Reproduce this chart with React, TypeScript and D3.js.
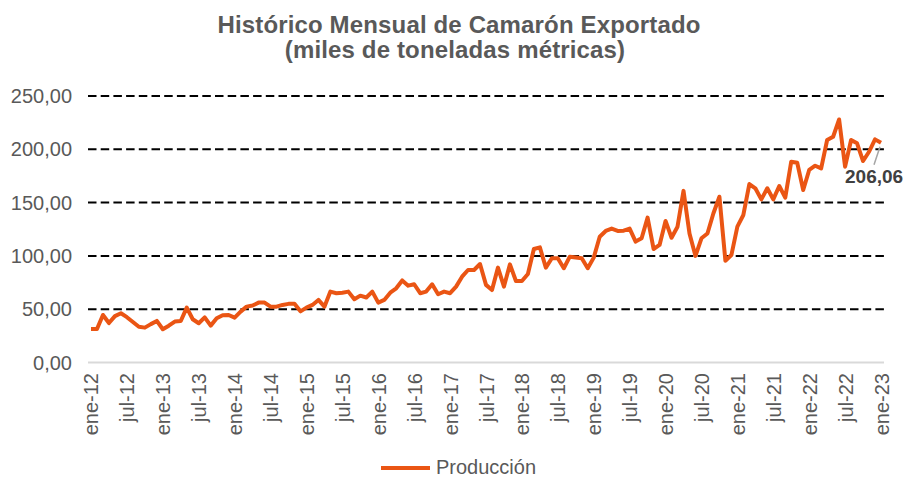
import React from "react";
import * as d3 from "d3";

const monthNames = ["ene", "feb", "mar", "abr", "may", "jun", "jul", "ago", "sep", "oct", "nov", "dic"];
const startYear = 12;

const values2012 = [31.5, 31.5, 44.6, 37, 43.5, 46.2, 42.5, 38, 33.5, 32.7, 36, 39];
const values2013 = [31.2, 34.5, 38.4, 38.9, 51.5, 40.6, 36.8, 42.4, 34.6, 41.5, 44.3, 44.6];
const values2014 = [42.1, 47.7, 52.4, 53.4, 56.2, 56.2, 52.4, 52.4, 54, 55, 55, 48];
const values2015 = [51.5, 54, 58.7, 52.4, 66.5, 65, 65.5, 66.5, 59.3, 62.7, 61, 66.5];
const values2016 = [56.2, 58.7, 65.5, 69.6, 77, 72.1, 73.4, 65, 66.5, 73.4, 64, 66.5];
const values2017 = [65, 71.2, 80.5, 86.8, 86.8, 92.4, 72.8, 68, 89, 71.2, 92.1, 76.5];
const values2018 = [76.5, 83, 106.5, 108, 89, 97.8, 97.8, 88.4, 99.3, 98.5, 97.8, 88.4];
const values2019 = [98.4, 118, 123.4, 125.6, 123.4, 123.7, 125.6, 113.4, 116.5, 135.9, 106.5, 110.3];
const values2020 = [132.8, 117, 127.4, 161, 121, 100, 116.5, 121, 140, 155.5, 95.5, 100.8];
const values2021 = [127.4, 138.4, 167.4, 163.4, 153, 163.4, 153, 165.6, 154.6, 188.4, 187.4, 161.8];
const values2022 = [180.6, 184.6, 182.1, 208.7, 211.8, 228, 183.7, 208.7, 205.6, 189, 197.7, 209.3];
const values2023 = [206.06];

const yTicks = [0, 50, 100, 150, 200, 250];
const seriesName = "Producción";
const title1 = "Histórico Mensual de Camarón Exportado";
const title2 = "(miles de toneladas métricas)";

const production = [
  ...values2012, ...values2013, ...values2014, ...values2015, ...values2016, ...values2017,
  ...values2018, ...values2019, ...values2020, ...values2021, ...values2022, ...values2023,
];
const categories = production.map((_, i) => {
  const m = i % 12;
  const y = startYear + Math.floor(i / 12);
  return `${monthNames[m]}-${y}`;
});

const W = 907;
const H = 477;
const FONT = "'Liberation Sans', Arial, sans-serif";
const ORANGE = "#EA5514";
const GREY = "#595959";

export default function App() {
  const x = d3.scalePoint<string>().domain(categories).range([88, 884]).padding(0.5);
  const y = d3.scaleLinear().domain([0, 250]).range([362.5, 96]);
  const line = d3
    .line<number>()
    .x((_, i) => x(categories[i]) as number)
    .y((d) => y(d));

  const lastIdx = production.length - 1;
  const lastX = x(categories[lastIdx]) as number;
  const lastY = y(production[lastIdx]);
  const fmt = (v: number) => v.toFixed(2).replace(".", ",");

  return (
    <svg
      width={W}
      height={H}
      style={{ position: "absolute", left: 0, top: 0, background: "#fff" }}
      fontFamily={FONT}
    >
      <rect x={0} y={0} width={W} height={H} fill="#fff" />
      <text x={459} y={33} textAnchor="middle" fontSize={24} fontWeight="bold" fill={GREY} letterSpacing={0.15}>
        {title1}
      </text>
      <text x={455} y={58} textAnchor="middle" fontSize={24} fontWeight="bold" fill={GREY} letterSpacing={0.15}>
        {title2}
      </text>

      {yTicks.map((t) =>
        t === 0 ? (
          <line key={t} x1={88} x2={884} y1={y(t)} y2={y(t)} stroke="#d9d9d9" strokeWidth={2} />
        ) : (
          <line
            key={t}
            x1={88}
            x2={885}
            y1={y(t)}
            y2={y(t)}
            stroke="#000"
            strokeWidth={2}
            strokeDasharray="8.5,4.2"
          />
        )
      )}
      {yTicks.map((t) => (
        <text key={"l" + t} x={72} y={y(t)} dy="0.35em" textAnchor="end" fontSize={20} fill={GREY}>
          {fmt(t)}
        </text>
      ))}

      {categories.map((c, i) =>
        i % 6 === 0 ? (
          <text
            key={c}
            transform={`translate(${(x(c) as number) + 0.5},373) rotate(-90)`}
            dy="0.35em"
            textAnchor="end"
            fontSize={20}
            fill={GREY}
          >
            {c}
          </text>
        ) : null
      )}

      <path d={line(production) || ""} fill="none" stroke={ORANGE} strokeWidth={4} strokeLinejoin="round" />

      <line x1={lastX - 1} y1={lastY + 4} x2={lastX - 7} y2={lastY + 22} stroke="#a6a6a6" strokeWidth={1.5} />
      <text x={845} y={183} fontSize={19} fontWeight="bold" fill="#404040">
        {fmt(production[lastIdx])}
      </text>

      <line x1={381} x2={430} y1={468} y2={468} stroke={ORANGE} strokeWidth={4} />
      <text x={436} y={474} fontSize={20} fill={GREY}>
        {seriesName}
      </text>
    </svg>
  );
}
